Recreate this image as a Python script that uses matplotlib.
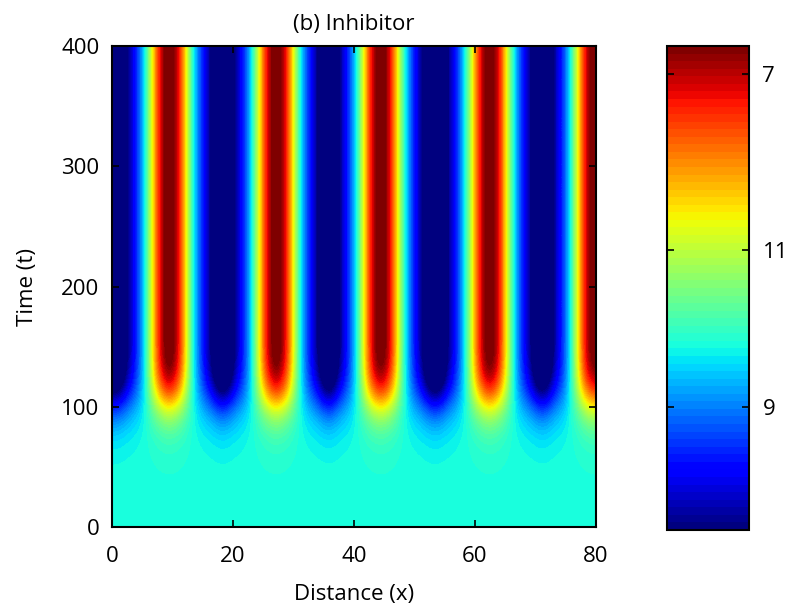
import numpy as np
import matplotlib
matplotlib.use("Agg")
import matplotlib.pyplot as plt

plt.rcParams['font.family'] = ['Open Sans', 'DejaVu Sans']

# stationary inhibitor profile at x = 0, 1, ..., 80 (colour-scale units, 0 = bottom, 1 = top)
x_vals = np.arange(0, 81)
profile = [-0.20, -0.14, -0.01, 0.10, 0.21, 0.36, 0.59, 0.80, 0.97, 1.05,
           0.99, 0.84, 0.63, 0.40, 0.24, 0.12, 0.01, -0.12, -0.20, -0.13,
           0.00, 0.11, 0.22, 0.38, 0.61, 0.82, 0.98, 1.05, 0.98, 0.82,
           0.61, 0.38, 0.22, 0.11, 0.00, -0.13, -0.18, -0.07, 0.06, 0.16,
           0.30, 0.49, 0.72, 0.91, 1.03, 1.03, 0.91, 0.72, 0.49, 0.30,
           0.16, 0.06, -0.07, -0.18, -0.19, -0.09, 0.04, 0.14, 0.27, 0.45,
           0.68, 0.87, 1.01, 1.04, 0.94, 0.76, 0.54, 0.33, 0.18, 0.08,
           -0.04, -0.16, -0.16, -0.04, 0.08, 0.18, 0.33, 0.54, 0.76, 0.94,
           1.04]

# homogeneous steady state before the pattern forms
base = 0.385

# growth of the pattern with time, t = 0, 10, ..., 400
t_vals = np.arange(0, 401, 10)
envelope = ([0.0, 0.0, 0.0, 0.003, 0.008, 0.018, 0.038, 0.075, 0.15, 0.27,
             0.46, 0.67, 0.83, 0.93, 0.98] + [1.0] * 26)

cbar_ticks = [0.254, 0.578, 0.942]
cbar_labels = ['9', '11', '7']

field = base + np.outer(envelope, np.array(profile) - base)

fig = plt.figure(figsize=(7.88, 6.14), dpi=100)
ax = fig.add_axes([0.142, 0.1417, 0.614, 0.783])
cax = fig.add_axes([0.846, 0.137, 0.104, 0.788])

cmap = matplotlib.colormaps['jet'].resampled(64)
im = ax.imshow(field, origin='lower', aspect='auto', cmap=cmap, vmin=0, vmax=1,
               extent=[x_vals[0], x_vals[-1], t_vals[0], t_vals[-1]],
               interpolation='bicubic', interpolation_stage='data')

ax.set_xlim(0, 80)
ax.set_ylim(0, 400)
ax.set_xticks([0, 20, 40, 60, 80])
ax.set_yticks([0, 100, 200, 300, 400])
ax.tick_params(direction='in', length=5, width=1.2, top=True, right=True,
               labelsize=16)
ax.tick_params(axis='x', pad=14)
ax.tick_params(axis='y', pad=9)
for s in ax.spines.values():
    s.set_linewidth(1.5)
ax.set_xlabel('Distance (x)', fontsize=16, labelpad=12)
ax.set_ylabel('Time (t)', fontsize=16, labelpad=17)
ax.set_title('(b) Inhibitor', fontsize=16, pad=12)

cb = fig.colorbar(im, cax=cax)
cb.set_ticks(cbar_ticks)
cb.set_ticklabels(cbar_labels)
cax.tick_params(direction='in', length=5, width=1.2, left=True, right=True,
                labelsize=16, pad=10)
cb.outline.set_linewidth(1.5)

fig.savefig('out.png', dpi=100)
